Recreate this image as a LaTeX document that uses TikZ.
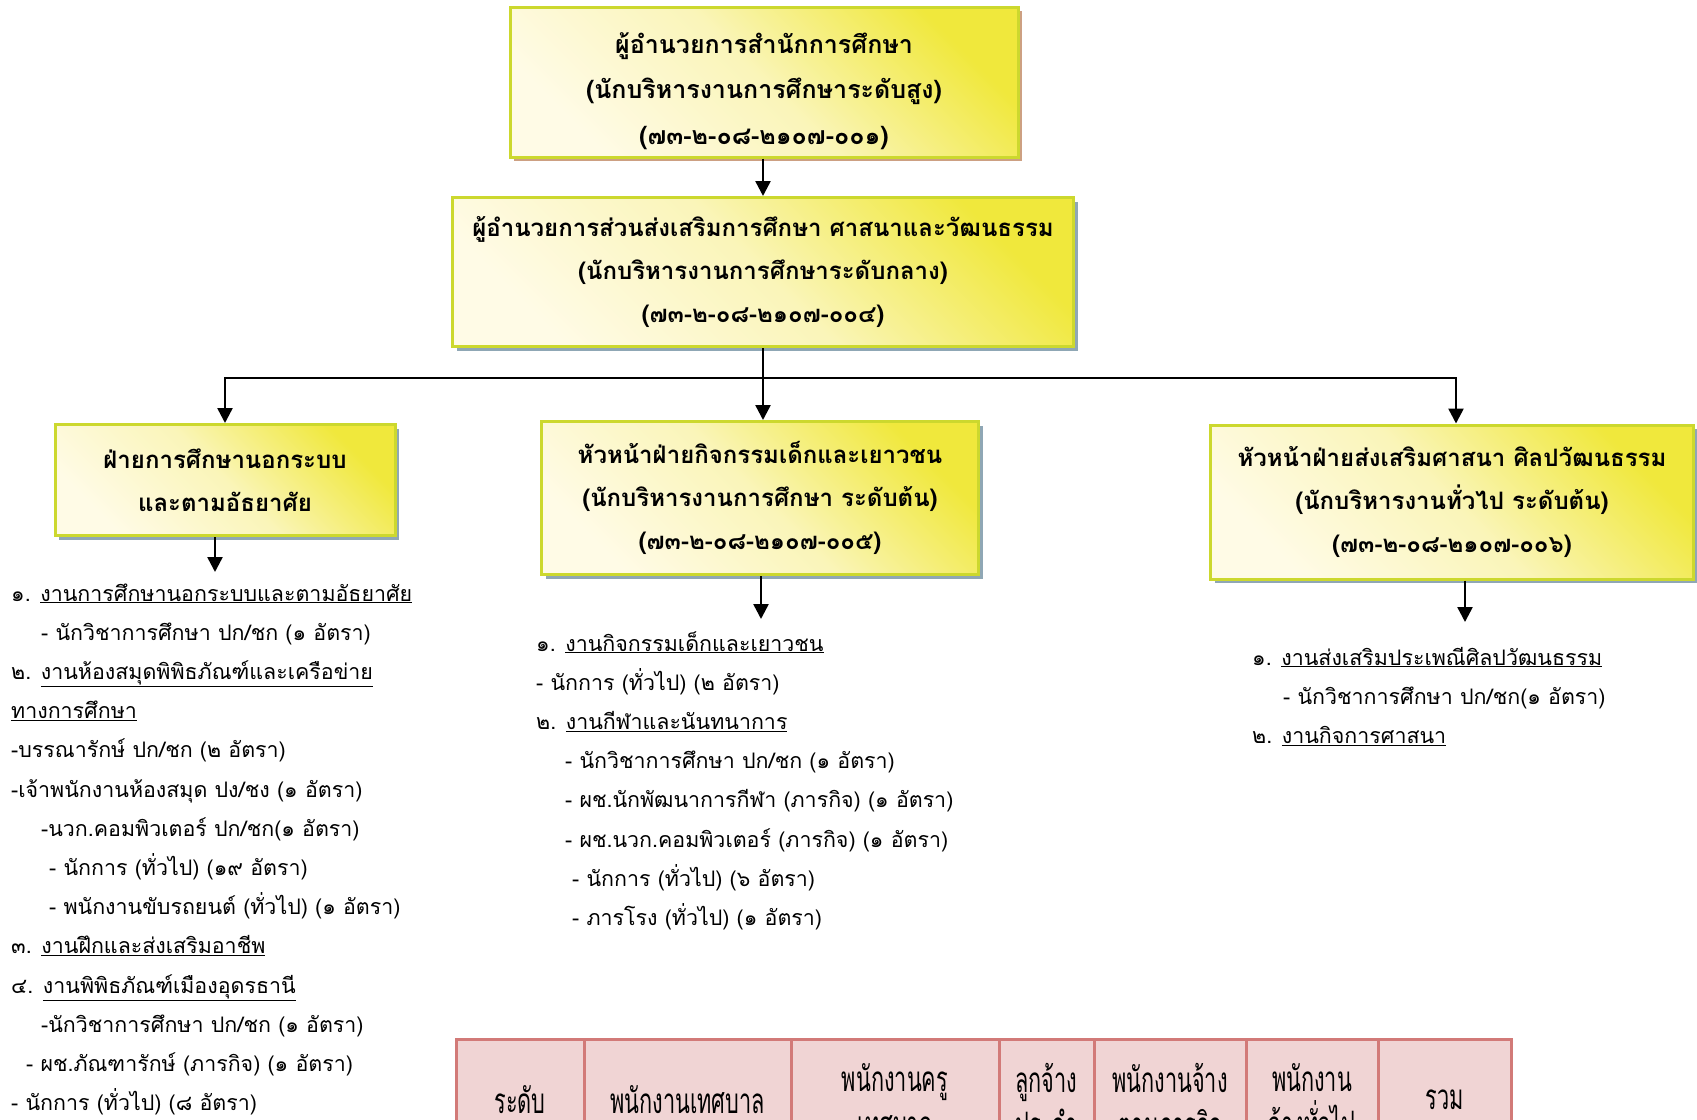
\documentclass[tikz,border=0pt]{standalone}
\usepackage{fontspec}
\setmainfont[Script=Thai]{Loma}
\newfontfamily\cellfont[Script=Thai,FakeStretch=0.62]{Loma}
\usetikzlibrary{arrows.meta,shadows}

\definecolor{boxline}{RGB}{204,216,46}
\definecolor{boxpale}{RGB}{255,251,230}
\definecolor{boxmid}{RGB}{250,245,185}
\definecolor{boxyellow}{RGB}{240,232,60}
\definecolor{shadowblue}{RGB}{143,167,181}
\definecolor{shadowtan}{RGB}{205,160,130}
\definecolor{cellline}{RGB}{210,122,120}
\definecolor{cellfill}{RGB}{240,212,212}

\newcommand{\boxfont}{\bfseries\fontsize{24}{43}\selectfont}
\newcommand{\listfont}{\fontsize{21.4}{39}\selectfont}
\newcommand{\subject}[1]{\underline{#1}}

\begin{document}
\begin{tikzpicture}[
        x=1pt, y=-1pt,
        post/.style={rectangle, draw=boxline, line width=3pt, inner sep=0pt,
                     top color=boxyellow, bottom color=boxpale, middle color=boxmid,
                     shading angle=-45, align=center, font=\boxfont,
                     general shadow={fill=shadowblue, shadow xshift=4pt, shadow yshift=-4pt}},
        duty/.style={anchor=base west, inner sep=0pt, font=\listfont},
        cell/.style={rectangle, draw=cellline, fill=cellfill, line width=3pt,
                     minimum height=122pt, inner sep=0pt, align=center,
                     font=\cellfont\fontsize{35}{45}\selectfont},
        conn/.style={line width=2.5pt, -{Triangle[width=15pt,length=15pt]}},
        line/.style={line width=2.5pt}
      ]
      \fill[white] (0,0) rectangle (1697,1119);
      \useasboundingbox (0,0) rectangle (1697,1119);
      \clip (0,0) rectangle (1697,1119);

      % Boxes of the chart
      \node (boss) [post, minimum width=508pt, minimum height=150pt,
                    font=\bfseries\fontsize{25}{45.5}\selectfont,
                    general shadow={fill=shadowtan, shadow xshift=4pt, shadow yshift=-4pt}]
            at (764,82) {\rule{0pt}{39pt}ผู้อำนวยการสำนักการศึกษา\\(นักบริหารงานการศึกษาระดับสูง)\\(๗๓-๒-๐๘-๒๑๐๗-๐๐๑)};
      \node (deputy) [post, minimum width=621pt, minimum height=149pt] at (763,272)
            {ผู้อำนวยการส่วนส่งเสริมการศึกษา ศาสนาและวัฒนธรรม\\(นักบริหารงานการศึกษาระดับกลาง)\\(๗๓-๒-๐๘-๒๑๐๗-๐๐๔)};
      \node (nonformal) [post, minimum width=340pt, minimum height=111pt] at (225,480)
            {ฝ่ายการศึกษานอกระบบ\\และตามอัธยาศัย};
      \node (youth) [post, minimum width=437pt, minimum height=153pt] at (760,498)
            {หัวหน้าฝ่ายกิจกรรมเด็กและเยาวชน\\(นักบริหารงานการศึกษา ระดับต้น)\\(๗๓-๒-๐๘-๒๑๐๗-๐๐๕)};
      \node (religion) [post, minimum width=483pt, minimum height=154pt] at (1452,502)
            {หัวหน้าฝ่ายส่งเสริมศาสนา ศิลปวัฒนธรรม\\(นักบริหารงานทั่วไป ระดับต้น)\\(๗๓-๒-๐๘-๒๑๐๗-๐๐๖)};

      % Connectors
      \coordinate (fork) at (deputy.south |- 0,378);
      \draw[conn] (boss.south -| deputy.north) -- (deputy.north);
      \draw[line] (deputy.south) -- (fork);
      \draw[conn] (fork) -| (nonformal.north);
      \draw[conn] (fork) -| ([xshift=4pt]religion.north);
      \draw[conn] (fork) -- (fork |- youth.north);

      % Arrows to the lists of duties
      \coordinate (nonformal-end) at (215,572);
      \coordinate (youth-end) at (761,619);
      \coordinate (religion-end) at (1465,622);
      \draw[conn] (nonformal.south -| nonformal-end) -- (nonformal-end);
      \draw[conn] (youth.south -| youth-end) -- (youth-end);
      \draw[conn] (religion.south -| religion-end) -- (religion-end);

      % Left list
      \foreach \dx/\txt [count=\i from 0] in {
          11/{๑. \subject{งานการศึกษานอกระบบและตามอัธยาศัย}},
          41/{- นักวิชาการศึกษา ปก/ชก (๑ อัตรา)},
          11/{๒. \subject{งานห้องสมุดพิพิธภัณฑ์และเครือข่าย}},
          11/{\subject{ทางการศึกษา}},
          11/{-บรรณารักษ์ ปก/ชก (๒ อัตรา)},
          11/{-เจ้าพนักงานห้องสมุด ปง/ชง (๑ อัตรา)},
          41/{-นวก.คอมพิวเตอร์ ปก/ชก(๑ อัตรา)},
          49/{- นักการ (ทั่วไป) (๑๙ อัตรา)},
          49/{- พนักงานขับรถยนต์ (ทั่วไป) (๑ อัตรา)},
          11/{๓. \subject{งานฝึกและส่งเสริมอาชีพ}},
          11/{๔. \subject{งานพิพิธภัณฑ์เมืองอุดรธานี}},
          41/{-นักวิชาการศึกษา ปก/ชก (๑ อัตรา)},
          26/{- ผช.ภัณฑารักษ์ (ภารกิจ) (๑ อัตรา)},
          11/{- นักการ (ทั่วไป) (๘ อัตรา)}}
        \node (left\i) [duty] at (\dx,{601+39.2*\i}) {\txt};

      % Middle list
      \foreach \dx/\txt [count=\i from 0] in {
          536/{๑. \subject{งานกิจกรรมเด็กและเยาวชน}},
          536/{- นักการ (ทั่วไป) (๒ อัตรา)},
          536/{๒. \subject{งานกีฬาและนันทนาการ}},
          565/{- นักวิชาการศึกษา ปก/ชก (๑ อัตรา)},
          565/{- ผช.นักพัฒนาการกีฬา (ภารกิจ) (๑ อัตรา)},
          565/{- ผช.นวก.คอมพิวเตอร์ (ภารกิจ) (๑ อัตรา)},
          572/{- นักการ (ทั่วไป) (๖ อัตรา)},
          572/{- ภารโรง (ทั่วไป) (๑ อัตรา)}}
        \node (mid\i) [duty] at (\dx,{651+39.2*\i}) {\txt};

      % Right list
      \foreach \dx/\txt [count=\i from 0] in {
          1252/{๑. \subject{งานส่งเสริมประเพณีศิลปวัฒนธรรม}},
          1283/{- นักวิชาการศึกษา ปก/ชก(๑ อัตรา)},
          1252/{๒. \subject{งานกิจการศาสนา}}}
        \node (right\i) [duty] at (\dx,{665+39.2*\i}) {\txt};

      % Table head
      \foreach \xa/\xb/\txt [count=\c] in {
          456/584/{ระดับ},
          584/791/{พนักงานเทศบาล},
          791/999/{พนักงานครู\\เทศบาล},
          999/1094/{ลูกจ้าง\\ประจำ},
          1094/1246/{พนักงานจ้าง\\ตามภารกิจ},
          1246/1378/{พนักงาน\\จ้างทั่วไป},
          1378/1511/{รวม}}
        \node (head\c) [cell, minimum width=\xb-\xa] at ({(\xa+\xb)/2},1100) {\txt};
\end{tikzpicture}
\end{document}
